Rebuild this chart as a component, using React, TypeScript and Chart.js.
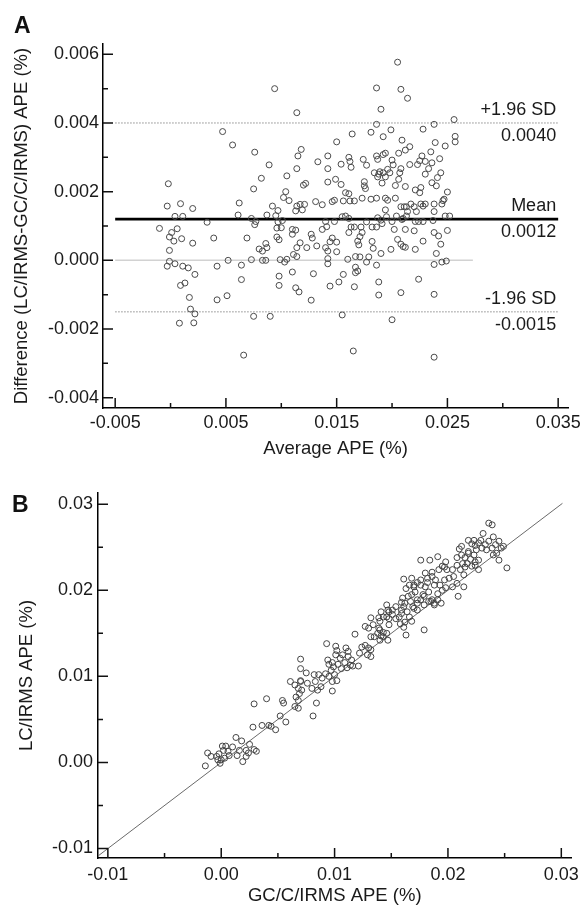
import React, { useEffect, useRef } from "react";
import { Chart, registerables } from "chart.js";

Chart.register(...registerables);

const FONT = "'Liberation Sans', Arial, Helvetica, sans-serif";

// ---------- Panel A: Bland-Altman ----------
const AVG_APE = [
  0.0094, 0.0047, 0.0056, 0.0076, 0.0089, 0.0105, 0.0082, 0.0075, -0.0002, 0.0104,
  0.0102, 0.0107, -0.0003, 0.0009, 0.0020, 0.0062, 0.0092, 0.0097, 0.0061, 0.0004,
  0.0011, 0.0073, 0.0077, 0.0087, 0.0095, 0.0033, -0.0010, 0.0006, 0.0001, -0.0001,
  0.0003, 0.0010, 0.0039, 0.0069, 0.0076, 0.0096, 0.0101, 0.0096, 0.0098, 0.0086,
  0.0087, 0.0080, 0.0020, -0.0001, 0.0083, 0.0073, 0.0083, 0.0086, 0.0052, 0.0099,
  0.0103, 0.0105, -0.0001, 0.0004, -0.0003, 0.0011, 0.0016, 0.0022, 0.0042, 0.0064,
  0.0098, 0.0009, 0.0013, 0.0064, 0.0098, 0.0017, 0.0042, 0.0051, 0.0018, 0.0022,
  0.0008, 0.0021, 0.0075, 0.0090, 0.0066, 0.0100, 0.0097, 0.0167, 0.0142, 0.0205,
  0.0186, 0.0208, 0.0214, 0.0190, 0.0114, 0.0256, 0.0186, 0.0238, 0.0228, 0.0199,
  0.0181, 0.0164, 0.0192, 0.0257, 0.0257, 0.0150, 0.0209, 0.0239, 0.0248, 0.0216,
  0.0212, 0.0118, 0.0115, 0.0114, 0.0206, 0.0194, 0.0192, 0.0235, 0.0243, 0.0142,
  0.0161, 0.0162, 0.0174, 0.0186, 0.0187, 0.0133, 0.0154, 0.0177, 0.0200, 0.0201,
  0.0216, 0.0223, 0.0225, 0.0227, 0.0230, 0.0236, 0.0142, 0.0163, 0.0184, 0.0188,
  0.0189, 0.0192, 0.0196, 0.0198, 0.0208, 0.0207, 0.0230, 0.0233, 0.0244, 0.0187,
  0.0194, 0.0191, 0.0206, 0.0241, 0.0142, 0.0149, 0.0154, 0.0120, 0.0122, 0.0175,
  0.0175, 0.0176, 0.0203, 0.0212, 0.0236, 0.0240, 0.0221, 0.0226, 0.0225, 0.0250,
  0.0158, 0.0161, 0.0247, 0.0114, 0.0117, 0.0121, 0.0113, 0.0119, 0.0131, 0.0137,
  0.0146, 0.0148, 0.0156, 0.0162, 0.0166, 0.0173, 0.0181, 0.0186, 0.0194, 0.0196,
  0.0203, 0.0208, 0.0211, 0.0213, 0.0217, 0.0220, 0.0226, 0.0228, 0.0230, 0.0238,
  0.0245, 0.0246, 0.0222, 0.0214, 0.0238, 0.0194, 0.0155, 0.0158, 0.0161, 0.0187,
  0.0195, 0.0204, 0.0210, 0.0213, 0.0248, 0.0252, 0.0140, 0.0148, 0.0163, 0.0166,
  0.0172, 0.0177, 0.0182, 0.0186, 0.0190, 0.0191, 0.0200, 0.0202, 0.0209, 0.0212,
  0.0221, 0.0224, 0.0228, 0.0237, 0.0250, 0.0137, 0.0141, 0.0110, 0.0113, 0.0110,
  0.0127, 0.0128, 0.0144, 0.0146, 0.0150, 0.0161, 0.0169, 0.0171, 0.0173, 0.0170,
  0.0182, 0.0183, 0.0190, 0.0199, 0.0205, 0.0208, 0.0210, 0.0212, 0.0220, 0.0228,
  0.0238, 0.0242, 0.0244, 0.0240, 0.0221, 0.0117, 0.0114, 0.0123, 0.0132, 0.0140,
  0.0142, 0.0150, 0.0142, 0.0160, 0.0167, 0.0171, 0.0179, 0.0186, 0.0177, 0.0111,
  0.0114, 0.0238, 0.0245, 0.0249, 0.0110, 0.0129, 0.0156, 0.0167, 0.0169, 0.0152,
  0.0144, 0.0188, 0.0166, 0.0224, 0.0113, 0.0116, 0.0127, 0.0188, 0.0208, 0.0238,
  0.0155, 0.0200, 0.0165, 0.0238,
];
const DIFF_APE = [
  0.0050, 0.00375, 0.00336, 0.00315, 0.00278, 0.00246, 0.00239, 0.00208, 0.00223, 0.0020,
  0.00183, 0.00174, 0.00158, 0.00165, 0.00151, 0.00167, 0.00158, 0.00145, 0.00132, 0.00128,
  0.00128, 0.00122, 0.00113, 0.00132, 0.00130, 0.00111, 0.00093, 0.00092, 0.00081, 0.00068,
  0.00056, 0.00063, 0.00065, 0.00065, 0.00104, 0.00094, 0.00116, 0.00068, 0.00060, 0.00049,
  0.00037, 0.00033, 0.00050, 0.00029, 0.00027, 0.00002, 0.00000, 0.00000, 0.00000, 0.00002,
  -0.00005, 0.00003, -0.00003, -0.00010, -0.00017, -0.00017, -0.00022, -0.00041, -0.00017, -0.00014,
  -0.00046, -0.00073, -0.00066, -0.00056, -0.00073, -0.00108, -0.00115, -0.00103, -0.00142, -0.00156,
  -0.00183, -0.00182, -0.00163, -0.00163, -0.00276, 0.00095, 0.00112, -0.00020, -0.00010, 0.00577,
  0.00502, 0.00498, 0.00472, 0.00440, 0.00430, 0.00410, 0.00396, 0.00396, 0.00382, 0.00380,
  0.00373, 0.00368, 0.00360, 0.00361, 0.00345, 0.00345, 0.00350, 0.00343, 0.00333, 0.00331,
  0.00321, 0.00323, 0.00304, 0.00267, 0.00312, 0.00312, 0.00308, 0.00316, 0.00296, 0.00304,
  0.00300, 0.00288, 0.00294, 0.00304, 0.00294, 0.00287, 0.00280, 0.00277, 0.00292, 0.00278,
  0.00279, 0.00279, 0.00290, 0.00304, 0.00288, 0.00284, 0.00267, 0.00271, 0.00255, 0.00251,
  0.00258, 0.00255, 0.00265, 0.00255, 0.00267, 0.00255, 0.00251, 0.00267, 0.00255, 0.00243,
  0.00243, 0.00225, 0.00236, 0.00241, 0.00228, 0.00236, 0.00221, 0.00219, 0.00224, 0.00229,
  0.00217, 0.00209, 0.00218, 0.00215, 0.00226, 0.00217, 0.00205, 0.00212, 0.00197, 0.00199,
  0.00197, 0.00194, 0.00178, 0.00158, 0.00163, 0.00163, 0.00144, 0.00147, 0.00171, 0.00162,
  0.00171, 0.00175, 0.00173, 0.00173, 0.00173, 0.00181, 0.00178, 0.00181, 0.00181, 0.00175,
  0.00181, 0.00156, 0.00156, 0.00156, 0.00164, 0.00156, 0.00164, 0.00158, 0.00164, 0.00164,
  0.00164, 0.00174, 0.00142, 0.00142, 0.00142, 0.00147, 0.00127, 0.00129, 0.00122, 0.00124,
  0.00127, 0.00129, 0.00122, 0.00129, 0.00129, 0.00129, 0.00113, 0.00113, 0.00097, 0.00097,
  0.00097, 0.00112, 0.00097, 0.00097, 0.00117, 0.00107, 0.00113, 0.00090, 0.00119, 0.00090,
  0.00113, 0.00113, 0.00113, 0.00116, 0.00087, 0.00090, 0.00098, 0.00090, 0.00088, 0.00076,
  0.00076, 0.00065, 0.00054, 0.00065, 0.00053, 0.00081, 0.00056, 0.00069, 0.00081, 0.00045,
  0.00055, 0.00035, 0.00020, 0.00032, 0.00061, 0.00047, 0.00040, 0.00038, 0.00086, 0.00056,
  0.00081, 0.00071, 0.00047, 0.00020, 0.00032, 0.00051, 0.00037, 0.00037, 0.00042, 0.00037,
  0.00027, 0.00025, 0.00005, 0.00003, 0.00011, 0.00010, 0.00010, -0.00014, -0.00005, 0.00017,
  0.00011, -0.00012, -0.00005, -0.00002, -0.00034, -0.00039, -0.00041, -0.00036, -0.00031, -0.00063,
  -0.00075, -0.00063, -0.00077, -0.00055, -0.00080, -0.00092, -0.00116, -0.00101, -0.00094, -0.00099,
  -0.00159, -0.00173, -0.00264, -0.00282,
];
const MEAN_DIFF = 0.0012;
const UPPER_LOA = 0.004;
const LOWER_LOA = -0.0015;
const LOA_X_RANGE = [-0.005, 0.035];
const ZERO_X_RANGE = [-0.005, 0.0273];
const LOA_TITLES = ["+1.96 SD", "Mean", "-1.96 SD"];
const A_X_TICKS = [-0.005, 0.005, 0.015, 0.025, 0.035];
const A_X_LABELS = ["-0.005", "0.005", "0.015", "0.025", "0.035"];
const A_Y_TICKS = [-0.004, -0.002, 0, 0.002, 0.004, 0.006];
const A_Y_LABELS = ["-0.004", "-0.002", "0.000", "0.002", "0.004", "0.006"];

// ---------- Panel B: LC/IRMS vs GC/C/IRMS ----------
const GC_APE = [
  -0.0014, -0.0012, -0.0009, -0.0004, -0.0002, -0.0003, -0.0001, 0.0001, 0.0004, 0.0002,
  0.0006, 0.0007, 0.0003, 0.0000, 0.0013, 0.0014, 0.0016, 0.0018, 0.0019, 0.0022,
  0.0025, 0.0024, 0.0029, 0.0031, 0.0010, 0.0022, 0.0028, 0.0029, 0.0040, 0.0036,
  0.0042, 0.0044, 0.0048, 0.0052, 0.0054, 0.0055, 0.0057, 0.0061, 0.0065, 0.0068,
  0.0069, 0.0066, 0.0065, 0.0068, 0.0068, 0.0070, 0.0070, 0.0070, 0.0075, 0.0093,
  0.0101, 0.0102, 0.0101, 0.0094, 0.0095, 0.0098, 0.0099, 0.0097, 0.0105, 0.0107,
  0.0109, 0.0110, 0.0112, 0.0112, 0.0115, 0.0114, 0.0111, 0.0106, 0.0103, 0.0116,
  0.0121, 0.0118, 0.0122, 0.0124, 0.0127, 0.0130, 0.0132, 0.0132, 0.0129, 0.0127,
  0.0130, 0.0134, 0.0132, 0.0135, 0.0138, 0.0139, 0.0140, 0.0132, 0.0139, 0.0143,
  0.0146, 0.0147, 0.0148, 0.0148, 0.0146, 0.0147, 0.0143, 0.0070, 0.0076, 0.0082,
  0.0086, 0.0083, 0.0089, 0.0092, 0.0095, 0.0098, 0.0088, 0.0085, 0.0100, 0.0102,
  0.0071, 0.0080, 0.0081, 0.0084, 0.0098, 0.0148, 0.0151, 0.0154, 0.0157, 0.0159,
  0.0158, 0.0159, 0.0163, 0.0161, 0.0162, 0.0140, 0.0143, 0.0141, 0.0161, 0.0168,
  0.0166, 0.0163, 0.0170, 0.0173, 0.0176, 0.0171, 0.0168, 0.0160, 0.0159, 0.0161,
  0.0164, 0.0166, 0.0168, 0.0170, 0.0173, 0.0176, 0.0178, 0.0176, 0.0184, 0.0191,
  0.0179, 0.0180, 0.0182, 0.0186, 0.0188, 0.0189, 0.0192, 0.0195, 0.0198, 0.0199,
  0.0201, 0.0193, 0.0191, 0.0186, 0.0183, 0.0188, 0.0194, 0.0183, 0.0180, 0.0195,
  0.0197, 0.0204, 0.0205, 0.0208, 0.0204, 0.0198, 0.0209, 0.0214, 0.0210, 0.0212,
  0.0215, 0.0208, 0.0218, 0.0220, 0.0217, 0.0223, 0.0224, 0.0227, 0.0221, 0.0227,
  0.0218, 0.0223, 0.0229, 0.0231, 0.0236, 0.0239, 0.0240, 0.0236, 0.0233, 0.0230,
  0.0234, 0.0239, 0.0242, 0.0245, 0.0243, 0.0247, 0.0249, 0.0240, 0.0245, 0.0252,
  0.0227, 0.0224, 0.0141, 0.0146, 0.0151, 0.0154, 0.0140, 0.0162, 0.0167, 0.0179,
  0.0169, 0.0173, 0.0179, 0.0185, 0.0191, 0.0188, 0.0165, 0.0173, 0.0170, 0.0176,
  0.0182, 0.0186, 0.0197, 0.0212, 0.0221, 0.0225, 0.0218, 0.0224, 0.0215, 0.0213,
  0.0208, 0.0211, 0.0214,
];
const LC_APE = [
  -0.0004, 0.0011, 0.0007, 0.0007, 0.0010, 0.0003, -0.0001, 0.0019, 0.0019, 0.0014,
  0.0013, 0.0008, 0.0005, 0.0003, 0.0029, 0.0008, 0.0014, 0.0025, 0.0001, 0.0014,
  0.0021, 0.0011, 0.0015, 0.0013, 0.0018, 0.0007, 0.0041, 0.0068, 0.0074, 0.0043,
  0.0043, 0.0042, 0.0038, 0.0054, 0.0072, 0.0069, 0.0047, 0.0094, 0.0090, 0.0086,
  0.0080, 0.0076, 0.0065, 0.0063, 0.0072, 0.0109, 0.0095, 0.0120, 0.0104, 0.0138,
  0.0135, 0.0130, 0.0125, 0.0119, 0.0114, 0.0116, 0.0111, 0.0107, 0.0121, 0.0125,
  0.0116, 0.0133, 0.0129, 0.0123, 0.0119, 0.0113, 0.0110, 0.0109, 0.0114, 0.0112,
  0.0112, 0.0149, 0.0127, 0.0134, 0.0136, 0.0133, 0.0131, 0.0123, 0.0125, 0.0158,
  0.0156, 0.0160, 0.0146, 0.0146, 0.0150, 0.0156, 0.0164, 0.0168, 0.0168, 0.0169,
  0.0183, 0.0177, 0.0167, 0.0160, 0.0150, 0.0142, 0.0146, 0.0094, 0.0092, 0.0102,
  0.0102, 0.0094, 0.0098, 0.0103, 0.0100, 0.0094, 0.0088, 0.0084, 0.0102, 0.0095,
  0.0084, 0.0086, 0.0054, 0.0069, 0.0083, 0.0175, 0.0172, 0.0167, 0.0169, 0.0177,
  0.0161, 0.0173, 0.0148, 0.0157, 0.0163, 0.0154, 0.0151, 0.0147, 0.0213, 0.0214,
  0.0206, 0.0202, 0.0204, 0.0209, 0.0212, 0.0198, 0.0195, 0.0191, 0.0186, 0.0181,
  0.0175, 0.0169, 0.0164, 0.0179, 0.0185, 0.0189, 0.0195, 0.0235, 0.0235, 0.0239,
  0.0154, 0.0220, 0.0214, 0.0216, 0.0206, 0.0212, 0.0224, 0.0228, 0.0233, 0.0224,
  0.0214, 0.0206, 0.0196, 0.0189, 0.0187, 0.0185, 0.0185, 0.0198, 0.0204, 0.0200,
  0.0212, 0.0224, 0.0216, 0.0208, 0.0204, 0.0203, 0.0193, 0.0204, 0.0248, 0.0241,
  0.0238, 0.0238, 0.0245, 0.0236, 0.0231, 0.0241, 0.0233, 0.0224, 0.0228, 0.0235,
  0.0258, 0.0258, 0.0258, 0.0266, 0.0278, 0.0276, 0.0262, 0.0257, 0.0253, 0.0249,
  0.0247, 0.0249, 0.0253, 0.0257, 0.0243, 0.0249, 0.0251, 0.0241, 0.0235, 0.0226,
  0.0255, 0.0252, 0.0175, 0.0169, 0.0177, 0.0181, 0.0142, 0.0185, 0.0187, 0.0193,
  0.0181, 0.0177, 0.0183, 0.0187, 0.0189, 0.0183, 0.0193, 0.0189, 0.0206, 0.0206,
  0.0209, 0.0221, 0.0227, 0.0251, 0.0254, 0.0247, 0.0243, 0.0229, 0.0227, 0.0231,
  0.0229, 0.0224, 0.0218,
];
const IDENTITY_RANGE = [-0.011, 0.0301];
const B_TICKS = [-0.01, 0, 0.01, 0.02, 0.03];
const B_LABELS = ["-0.01", "0.00", "0.01", "0.02", "0.03"];

const TEXT_COLOR = "#1a1a1a";

function inwardTicks(xMajor: number[], yMajor: number[]) {
  const mids = (a: number[]) => a.slice(1).map((v, i) => (v + a[i]) / 2);
  return {
    id: "inwardTicks",
    afterDraw(chart: any) {
      const { ctx, chartArea: area, scales } = chart;
      const xs = scales.x;
      const ys = scales.y;
      ctx.save();
      ctx.strokeStyle = "#111";
      ctx.lineWidth = 1.5;
      ctx.beginPath();
      xMajor.forEach((v) => {
        const p = xs.getPixelForValue(v);
        ctx.moveTo(p, area.bottom);
        ctx.lineTo(p, area.bottom - 10);
      });
      mids(xMajor).forEach((v) => {
        const p = xs.getPixelForValue(v);
        ctx.moveTo(p, area.bottom);
        ctx.lineTo(p, area.bottom - 5);
      });
      yMajor.forEach((v) => {
        const p = ys.getPixelForValue(v);
        ctx.moveTo(area.left, p);
        ctx.lineTo(area.left + 10, p);
      });
      mids(yMajor).forEach((v) => {
        const p = ys.getPixelForValue(v);
        ctx.moveTo(area.left, p);
        ctx.lineTo(area.left + 5, p);
      });
      ctx.stroke();
      ctx.restore();
    },
  };
}

function panelLetter(letter: string, x: number, baseline: number) {
  return {
    id: "panelLetter",
    afterDraw(chart: any) {
      const ctx = chart.ctx;
      ctx.save();
      ctx.fillStyle = "#111";
      ctx.font = `bold 23px ${FONT}`;
      ctx.textAlign = "left";
      ctx.textBaseline = "alphabetic";
      ctx.fillText(letter, x, baseline);
      ctx.restore();
    },
  };
}

const loaLabels = {
  id: "loaLabels",
  afterDraw(chart: any) {
    const { ctx, scales } = chart;
    const ys = scales.y;
    const xs = scales.x;
    const right = xs.getPixelForValue(LOA_X_RANGE[1]) - 2;
    ctx.save();
    ctx.fillStyle = TEXT_COLOR;
    ctx.font = `18px ${FONT}`;
    ctx.textAlign = "right";
    ctx.textBaseline = "middle";
    [UPPER_LOA, MEAN_DIFF, LOWER_LOA].forEach((lv, i) => {
      const py = ys.getPixelForValue(lv);
      ctx.fillText(LOA_TITLES[i], right, py - 13);
      ctx.fillText(lv.toFixed(4), right, py + 13);
    });
    ctx.restore();
  },
};

function tickFont() {
  return { size: 18, family: FONT };
}
function titleFont() {
  return { size: 18.5, family: FONT };
}

function configA(): any {
  const hline = (xr: number[], y: number) => xr.map((x) => ({ x, y }));
  return {
    type: "scatter",
    data: {
      datasets: [
        {
          data: AVG_APE.map((x, i) => ({ x, y: DIFF_APE[i] })),
          pointRadius: 3,
          pointBorderWidth: 1,
          borderColor: "#4a4a4a",
          backgroundColor: "rgba(0,0,0,0)",
          order: 0,
        },
        {
          data: hline(ZERO_X_RANGE, 0),
          showLine: true,
          pointRadius: 0,
          borderColor: "#d2d2d2",
          borderWidth: 1.5,
          order: 4,
        },
        {
          data: hline(LOA_X_RANGE, UPPER_LOA),
          showLine: true,
          pointRadius: 0,
          borderColor: "#8c8c8c",
          borderWidth: 1,
          borderDash: [1.5, 1.5],
          order: 3,
        },
        {
          data: hline(LOA_X_RANGE, LOWER_LOA),
          showLine: true,
          pointRadius: 0,
          borderColor: "#8c8c8c",
          borderWidth: 1,
          borderDash: [1.5, 1.5],
          order: 3,
        },
        {
          data: hline(LOA_X_RANGE, MEAN_DIFF),
          showLine: true,
          pointRadius: 0,
          borderColor: "#000",
          borderWidth: 2.6,
          order: 2,
        },
      ],
    },
    options: {
      responsive: false,
      maintainAspectRatio: false,
      animation: false,
      devicePixelRatio: 1,
      layout: { padding: { left: 0, right: 15, top: 44, bottom: 0 } },
      plugins: { legend: { display: false }, tooltip: { enabled: false } },
      scales: {
        x: {
          type: "linear",
          min: -0.0061,
          max: 0.0359,
          afterBuildTicks: (s: any) => {
            s.ticks = A_X_TICKS.map((value) => ({ value }));
          },
          afterFit: (s: any) => {
            s.height = 52;
          },
          ticks: {
            autoSkip: false,
            maxRotation: 0,
            padding: 4,
            color: TEXT_COLOR,
            font: tickFont(),
            callback: (_v: any, i: number) => A_X_LABELS[i],
          },
          grid: { display: false, drawTicks: false },
          border: { display: true, color: "#000", width: 1.5 },
          title: {
            display: true,
            text: "Average APE (%)",
            color: TEXT_COLOR,
            font: titleFont(),
            padding: { top: 0, bottom: 0 },
          },
        },
        y: {
          type: "linear",
          min: -0.0043,
          max: 0.0063,
          afterBuildTicks: (s: any) => {
            s.ticks = A_Y_TICKS.map((value) => ({ value }));
          },
          afterFit: (s: any) => {
            s.width = 103;
          },
          ticks: {
            autoSkip: false,
            padding: 4,
            color: TEXT_COLOR,
            font: tickFont(),
            callback: (_v: any, i: number) => A_Y_LABELS[i],
          },
          grid: { display: false, drawTicks: false },
          border: { display: true, color: "#000", width: 1.5 },
          title: {
            display: true,
            text: "Difference (LC/IRMS-GC/C/IRMS) APE (%)",
            color: TEXT_COLOR,
            font: titleFont(),
            padding: { top: 11, bottom: 0 },
          },
        },
      },
    },
    plugins: [inwardTicks(A_X_TICKS, A_Y_TICKS), loaLabels, panelLetter("A", 14, 33)],
  };
}

function configB(): any {
  return {
    type: "scatter",
    data: {
      datasets: [
        {
          data: GC_APE.map((x, i) => ({ x, y: LC_APE[i] })),
          pointRadius: 3,
          pointBorderWidth: 1,
          borderColor: "#444",
          backgroundColor: "rgba(0,0,0,0)",
          order: 0,
        },
        {
          data: IDENTITY_RANGE.map((v) => ({ x: v, y: v })),
          showLine: true,
          pointRadius: 0,
          borderColor: "#6a6a6a",
          borderWidth: 1,
          order: 1,
        },
      ],
    },
    options: {
      responsive: false,
      maintainAspectRatio: false,
      animation: false,
      devicePixelRatio: 1,
      layout: { padding: { left: 0, right: 8, top: 33, bottom: 0 } },
      plugins: { legend: { display: false }, tooltip: { enabled: false } },
      scales: {
        x: {
          type: "linear",
          min: -0.01087,
          max: 0.0309,
          afterBuildTicks: (s: any) => {
            s.ticks = B_TICKS.map((value) => ({ value }));
          },
          afterFit: (s: any) => {
            s.height = 53;
          },
          ticks: {
            autoSkip: false,
            maxRotation: 0,
            padding: 6,
            color: TEXT_COLOR,
            font: tickFont(),
            callback: (_v: any, i: number) => B_LABELS[i],
          },
          grid: { display: false, drawTicks: false },
          border: { display: true, color: "#000", width: 1.5 },
          title: {
            display: true,
            text: "GC/C/IRMS APE (%)",
            color: TEXT_COLOR,
            font: titleFont(),
            padding: { top: 0, bottom: 4 },
          },
        },
        y: {
          type: "linear",
          min: -0.0111,
          max: 0.0313,
          afterBuildTicks: (s: any) => {
            s.ticks = B_TICKS.map((value) => ({ value }));
          },
          afterFit: (s: any) => {
            s.width = 98;
          },
          ticks: {
            autoSkip: false,
            padding: 5,
            color: TEXT_COLOR,
            font: tickFont(),
            callback: (_v: any, i: number) => B_LABELS[i],
          },
          grid: { display: false, drawTicks: false },
          border: { display: true, color: "#000", width: 1.5 },
          title: {
            display: true,
            text: "LC/IRMS APE (%)",
            color: TEXT_COLOR,
            font: titleFont(),
            padding: { top: 16, bottom: 0 },
          },
        },
      },
    },
    plugins: [inwardTicks(B_TICKS, B_TICKS), panelLetter("B", 12, 52)],
  };
}

function ChartCanvas(props: { make: () => any; width: number; height: number; top: number }) {
  const ref = useRef<HTMLCanvasElement | null>(null);
  useEffect(() => {
    if (!ref.current) return;
    const chart = new Chart(ref.current, props.make());
    return () => chart.destroy();
  }, []);
  return (
    <canvas
      ref={ref}
      width={props.width}
      height={props.height}
      style={{
        position: "absolute",
        left: 0,
        top: props.top,
        width: props.width,
        height: props.height,
        display: "block",
      }}
    />
  );
}

export default function App() {
  return (
    <div
      style={{
        position: "absolute",
        left: 0,
        top: 0,
        width: 585,
        height: 911,
        background: "#fff",
        overflow: "hidden",
      }}
    >
      <ChartCanvas make={configA} width={585} height={460} top={0} />
      <ChartCanvas make={configB} width={585} height={451} top={460} />
    </div>
  );
}
